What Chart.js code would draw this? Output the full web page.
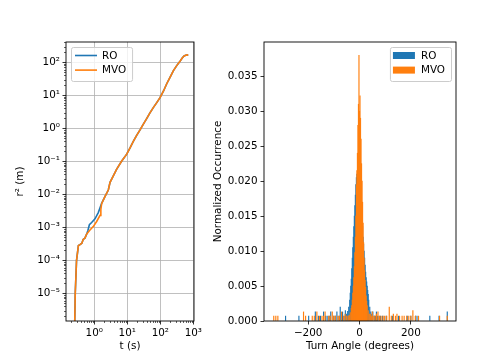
<!DOCTYPE html>
<html>
<head>
<meta charset="utf-8">
<script src="https://cdn.jsdelivr.net/npm/chart.js@4.4.0/dist/chart.umd.min.js"></script>
<style>
  body { margin: 0; background: #fff; }
  #wrap { position: relative; width: 481px; height: 361px; }
  canvas { position: absolute; top: 0; }
  #left { left: 0; }
  #right { left: 200px; }
</style>
</head>
<body>
<div id="wrap">
  <canvas id="left" width="215" height="361"></canvas>
  <canvas id="right" width="281" height="361"></canvas>
</div>
<script>
// mean squared displacement, t (s) vs r^2 (m)
const roT = [0.255, 0.265, 0.29, 0.33, 0.37, 0.42, 0.46, 0.52, 0.59, 0.64, 0.71, 0.83, 1.05, 1.32, 1.67, 2.1, 2.66, 3.0, 3.8, 4.77, 6.7, 9.6, 12, 15.2, 19, 24.3, 30, 39, 48, 62, 78, 98, 125, 155, 200, 247, 310, 390, 460, 525, 610, 700];
const roR2 = [1.2e-6, 1e-5, 1e-4, 2.8e-4, 3.0e-4, 3.3e-4, 4.3e-4, 4.7e-4, 6.3e-4, 8.0e-4, 1.2e-3, 1.4e-3, 1.8e-3, 2.8e-3, 5.3e-3, 8.5e-3, 1.35e-2, 2.3e-2, 3.7e-2, 5.8e-2, 0.1, 0.165, 0.25, 0.4, 0.6, 0.9, 1.3, 2.0, 2.9, 4.3, 6.0, 8.5, 13.5, 22, 36, 55, 78, 105, 135, 155, 165, 168];
const mvoT = [0.255, 0.265, 0.29, 0.33, 0.37, 0.42, 0.46, 0.52, 0.59, 0.74, 0.93, 1.18, 1.49, 1.58, 1.67, 2.1, 2.66, 3.0, 3.8, 4.77, 6.7, 9.6, 12, 15.2, 19, 24.3, 30, 39, 48, 62, 78, 98, 125, 155, 200, 247, 310, 390, 460, 525, 610, 700];
const mvoR2 = [1.2e-6, 1e-5, 1e-4, 2.8e-4, 3.0e-4, 3.3e-4, 4.3e-4, 4.7e-4, 6.3e-4, 8.3e-4, 1.05e-3, 1.5e-3, 2.3e-3, 3.5e-3, 5.2e-3, 8.5e-3, 1.35e-2, 2.3e-2, 3.7e-2, 5.8e-2, 0.1, 0.165, 0.25, 0.4, 0.6, 0.9, 1.3, 2.0, 2.9, 4.3, 6.0, 8.5, 13.5, 22, 36, 55, 78, 105, 135, 155, 165, 168];

const leftXTicks = [1, 10, 100, 1000];
const leftXLabels = ['10\u2070', '10\u00b9', '10\u00b2', '10\u00b3'];
const leftYTicks = [1e-5, 1e-4, 1e-3, 1e-2, 1e-1, 1, 10, 100];
const leftYLabels = ['10\u207b\u2075', '10\u207b\u2074', '10\u207b\u00b3', '10\u207b\u00b2', '10\u207b\u00b9', '10\u2070', '10\u00b9', '10\u00b2'];

// turn angle histogram (density per bin)
const roAngle = [
  -288, -236, -198, -172, -160, -152, -140, -132, -126, -118,
  -112, -100, -94, -88, -80, -75, -70, -66, -60, -55,
  -50, -46, -42, -38, -36, -34, -32, -30, -28, -26,
  -24, -22, -20, -18, -16, -14, -12, -10, -8, -6,
  -4, -2, 0, 2, 4, 6, 8, 10, 12, 14,
  16, 18, 20, 22, 24, 26, 28, 30, 32, 34,
  36, 40, 44, 48, 52, 58, 62, 66, 70, 76,
  82, 90, 104, 128, 152, 186, 200, 218, 224, 274,
  310, 342];
const roDensity = [
  0.0007, 0.0007, 0.0007, 0.0013, 0.0007, 0.0007, 0.0013, 0.0007, 0.0007, 0.0007,
  0.0013, 0.0007, 0.0007, 0.0013, 0.0007, 0.0020, 0.0007, 0.0013, 0.0007, 0.0015,
  0.0010, 0.0014, 0.0020, 0.0030, 0.0040, 0.0050, 0.0060, 0.0075, 0.0090, 0.0105,
  0.0120, 0.0135, 0.0150, 0.0165, 0.0180, 0.0195, 0.0205, 0.0210, 0.0200, 0.0195,
  0.0190, 0.0200, 0.0190, 0.0185, 0.0180, 0.0170, 0.0160, 0.0150, 0.0135, 0.0120,
  0.0110, 0.0100, 0.0090, 0.0080, 0.0070, 0.0062, 0.0056, 0.0050, 0.0044, 0.0038,
  0.0030, 0.0020, 0.0013, 0.0010, 0.0013, 0.0007, 0.0007, 0.0013, 0.0007, 0.0007,
  0.0007, 0.0007, 0.0007, 0.0007, 0.0007, 0.0007, 0.0007, 0.0007, 0.0007, 0.0007,
  0.0007, 0.0013];
const mvoAngle = [
  -334, -326, -318, -218, -210, -184, -176, -166, -156, -146,
  -140, -134, -120, -114, -106, -100, -94, -84, -78, -70,
  -62, -56, -50, -44, -40, -36, -32, -30, -28, -26,
  -24, -22, -20, -18, -16, -14, -12, -10, -8, -6,
  -4, -2, 0, 2, 4, 6, 8, 10, 12, 14,
  16, 18, 20, 22, 24, 26, 28, 30, 34, 38,
  42, 46, 50, 56, 60, 66, 72, 78, 84, 92,
  98, 106, 116, 124, 132, 140, 146, 156, 166, 174,
  184, 192, 200, 208, 218, 230, 312, 342];
const mvoDensity = [
  0.0007, 0.0007, 0.0007, 0.0013, 0.0007, 0.0007, 0.0007, 0.0013, 0.0007, 0.0007,
  0.0007, 0.0013, 0.0007, 0.0007, 0.0013, 0.0007, 0.0007, 0.0007, 0.0007, 0.0013,
  0.0007, 0.0010, 0.0007, 0.0007, 0.0008, 0.0012, 0.0018, 0.0022, 0.0030, 0.0040,
  0.0050, 0.0062, 0.0078, 0.0098, 0.0120, 0.0150, 0.0195, 0.0215, 0.0240, 0.0280,
  0.0310, 0.0380, 0.0300, 0.0322, 0.0290, 0.0260, 0.0225, 0.0200, 0.0170, 0.0140,
  0.0112, 0.0090, 0.0072, 0.0058, 0.0048, 0.0036, 0.0028, 0.0022, 0.0015, 0.0010,
  0.0010, 0.0007, 0.0013, 0.0007, 0.0007, 0.0010, 0.0013, 0.0007, 0.0007, 0.0007,
  0.0007, 0.0007, 0.0020, 0.0007, 0.0010, 0.0007, 0.0010, 0.0007, 0.0007, 0.0007,
  0.0007, 0.0007, 0.0007, 0.0015, 0.0007, 0.0007, 0.0007, 0.0007];

const rightXTicks = [-200, 0, 200];
const rightXLabels = ['\u2212200', '0', '200'];
const rightYTicks = [0, 0.005, 0.010, 0.015, 0.020, 0.025, 0.030, 0.035];
const rightYLabels = ['0.000', '0.005', '0.010', '0.015', '0.020', '0.025', '0.030', '0.035'];

const BLUE = '#1f77b4';
const ORANGE = '#ff7f0e';
const font = { family: 'DejaVu Sans', size: 10.4, lineHeight: 1.2 };
Chart.defaults.font.family = 'DejaVu Sans';
Chart.defaults.color = '#000';

// black box around the plot area
const frame = {
  id: 'frame',
  afterDraw(chart) {
    const { ctx, chartArea: a } = chart;
    ctx.save();
    ctx.strokeStyle = '#000';
    ctx.lineWidth = 0.9;
    ctx.strokeRect(a.left, a.top, a.right - a.left, a.bottom - a.top);
    ctx.restore();
  }
};

// small log ticks between decades
const minorTicks = {
  id: 'minorTicks',
  afterDraw(chart) {
    const { ctx, chartArea: a, scales: { x, y } } = chart;
    ctx.save();
    ctx.strokeStyle = '#000';
    ctx.lineWidth = 0.6;
    ctx.beginPath();
    for (let d = -7; d <= 3; d++) {
      for (let m = 2; m <= 9; m++) {
        const v = m * Math.pow(10, d);
        if (v > x.min && v < x.max) {
          const p = Math.round(x.getPixelForValue(v)) + 0.5;
          ctx.moveTo(p, a.bottom); ctx.lineTo(p, a.bottom + 2);
        }
        if (v > y.min && v < y.max) {
          const p = Math.round(y.getPixelForValue(v)) + 0.5;
          ctx.moveTo(a.left, p); ctx.lineTo(a.left - 2, p);
        }
      }
    }
    ctx.stroke();
    ctx.restore();
  }
};

// matplotlib-like legend box inside the axes
const boxLegend = {
  id: 'boxLegend',
  afterDraw(chart, args, opts) {
    const { ctx, chartArea: a } = chart;
    const sets = chart.data.datasets;
    ctx.save();
    ctx.font = '10.4px "DejaVu Sans"';
    const textW = Math.max(...sets.map(d => ctx.measureText(d.label).width));
    const w = 32 + textW + 5;
    const h = 34;
    const x = opts.corner === 'left' ? a.left + 5 : a.right - 5 - w;
    const y = a.top + 5;
    ctx.beginPath();
    ctx.roundRect(x + 0.5, y + 0.5, w, h, 2);
    ctx.fillStyle = 'rgba(255,255,255,0.8)';
    ctx.fill();
    ctx.strokeStyle = '#cccccc';
    ctx.lineWidth = 1;
    ctx.stroke();
    sets.forEach((d, i) => {
      const cy = y + 8.5 + i * 14.6;
      if (opts.kind === 'line') {
        ctx.strokeStyle = d.borderColor;
        ctx.lineWidth = 1.6;
        ctx.beginPath();
        ctx.moveTo(x + 4, cy); ctx.lineTo(x + 26, cy);
        ctx.stroke();
      } else {
        ctx.fillStyle = d.backgroundColor;
        ctx.fillRect(x + 3, cy - 3.5, 22, 7);
      }
      ctx.fillStyle = '#000';
      ctx.textBaseline = 'middle';
      ctx.fillText(d.label, x + 31, cy + 0.5);
    });
    ctx.restore();
  }
};

new Chart(document.getElementById('left'), {
  type: 'line',
  data: {
    datasets: [
      { label: 'RO', data: roT.map((t, i) => ({ x: t, y: roR2[i] })), borderColor: BLUE, borderWidth: 1.6, pointRadius: 0, fill: false, order: 1 },
      { label: 'MVO', data: mvoT.map((t, i) => ({ x: t, y: mvoR2[i] })), borderColor: ORANGE, borderWidth: 1.6, pointRadius: 0, fill: false, order: 0 }
    ]
  },
  options: {
    responsive: false,
    animation: false,
    layout: { padding: { top: 42, right: 21, left: 0, bottom: 0 } },
    plugins: { legend: { display: false }, tooltip: { enabled: false }, boxLegend: { corner: 'left', kind: 'line' } },
    scales: {
      x: {
        type: 'logarithmic', min: 0.139, max: 1047, bounds: 'data',
        afterBuildTicks: s => { s.ticks = leftXTicks.map(v => ({ value: v })); },
        afterFit: s => { s.height = 40; },
        ticks: { autoSkip: false, maxRotation: 0, padding: 3, font, callback: (v, i) => leftXLabels[i] },
        grid: { color: '#b0b0b0', lineWidth: 0.8, tickColor: '#000', tickLength: 3.5, tickWidth: 0.8 },
        border: { display: false },
        title: { display: true, text: 't (s)', font, padding: { top: 0, bottom: 8 } }
      },
      y: {
        type: 'logarithmic', min: 1.45e-6, max: 412, bounds: 'data',
        afterBuildTicks: s => { s.ticks = leftYTicks.map(v => ({ value: v })); },
        afterFit: s => { s.width = 66; },
        ticks: { autoSkip: false, padding: 2.5, font, callback: (v, i) => leftYLabels[i] },
        grid: { color: '#b0b0b0', lineWidth: 0.8, tickColor: '#000', tickLength: 3.5, tickWidth: 0.8 },
        border: { display: false },
        title: { display: true, text: 'r\u00b2 (m)', font, padding: { top: 14, bottom: 0 } }
      }
    }
  },
  plugins: [minorTicks, frame, boxLegend]
});

new Chart(document.getElementById('right'), {
  type: 'bar',
  data: {
    datasets: [
      { label: 'RO', data: roAngle.map((a, i) => ({ x: a, y: roDensity[i] })), backgroundColor: BLUE, order: 1 },
      { label: 'MVO', data: mvoAngle.map((a, i) => ({ x: a, y: mvoDensity[i] })), backgroundColor: ORANGE, order: 0 }
    ]
  },
  options: {
    responsive: false,
    animation: false,
    layout: { padding: { top: 42, right: 25, left: 0, bottom: 0 } },
    datasets: { bar: { grouped: false, barThickness: 0.5, borderWidth: 0 } },
    plugins: { legend: { display: false }, tooltip: { enabled: false }, boxLegend: { corner: 'right', kind: 'patch' } },
    scales: {
      x: {
        type: 'linear', min: -372, max: 376, bounds: 'data', offset: false,
        afterBuildTicks: s => { s.ticks = rightXTicks.map(v => ({ value: v })); },
        afterFit: s => { s.height = 40; },
        ticks: { autoSkip: false, maxRotation: 0, padding: 3, font, callback: (v, i) => rightXLabels[i] },
        grid: { display: true, offset: false, drawOnChartArea: false, tickColor: '#000', tickLength: 3.5, tickWidth: 0.8 },
        border: { display: false },
        title: { display: true, text: 'Turn Angle (degrees)', font, padding: { top: 0, bottom: 8 } }
      },
      y: {
        type: 'linear', min: 0, max: 0.0399, bounds: 'data',
        afterBuildTicks: s => { s.ticks = rightYTicks.map(v => ({ value: v })); },
        afterFit: s => { s.width = 64; },
        ticks: { autoSkip: false, padding: 3, font, callback: (v, i) => rightYLabels[i] },
        grid: { display: true, drawOnChartArea: false, tickColor: '#000', tickLength: 3.5, tickWidth: 0.8 },
        border: { display: false },
        title: { display: true, text: 'Normalized Occurrence', font, padding: { top: 12, bottom: 0 } }
      }
    }
  },
  plugins: [frame, boxLegend]
});
</script>
</body>
</html>
